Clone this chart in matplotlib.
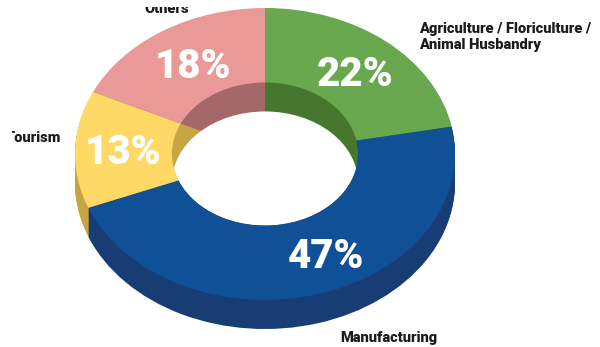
import matplotlib
matplotlib.use('Agg')
import matplotlib.pyplot as plt
from matplotlib.patches import Circle, Rectangle
import numpy as np

labels = ['Agriculture / Floriculture /\nAnimal Husbandry', 'Manufacturing', 'Tourism', 'Others']
values = [22, 47, 13, 18]
pct_labels = ['22%', '47%', '13%', '18%']
top_colors = ['#69A84F', '#0F5096', '#FFD966', '#EA9999']
side_colors = ['#47762F', '#183C74', '#C8A544', '#A5686A']
# only the far wall of the hole shows, and green carries on past its seam there
wall_colors = ['#47762F', '#47762F', '#C8A544', '#A5686A']

W, H = 600, 347
cx, cy = 265, 154   # centre of the top face, px from top left
rx, ry = 190, 146
depth = 29
hole = 0.49


def px(x, y):
  return (x - cx) / rx, (cy - y) / ry


fig = plt.figure(figsize=(W / 100, H / 100), dpi=100)
ax = fig.add_axes([0, 0, 1, 1])

# side of the ring, swept down from the top face
for dy in np.arange(depth, 0, -1):
  ax.pie(values, colors=side_colors, startangle=90, counterclock=False,
         center=(0, -dy / ry), radius=1, wedgeprops=dict(linewidth=0))

# wall inside the hole, then the white opening
ax.pie(values, colors=wall_colors, startangle=90, counterclock=False, radius=hole,
       wedgeprops=dict(linewidth=0))
clip = Circle((0, 0), hole, transform=ax.transData)
white = Circle((0, -depth / ry), hole, fc='white', ec='none', zorder=3)
ax.add_patch(white)
white.set_clip_path(clip)

# top face
ax.pie(values, colors=top_colors, startangle=90, counterclock=False, radius=1,
       wedgeprops=dict(width=1 - hole, linewidth=0, zorder=4))

ax.set_aspect('auto')
ax.set_xlim(-cx / rx, (W - cx) / rx)
ax.set_ylim((cy - H) / ry, cy / ry)
ax.axis('off')

pct_pos = [(355, 75), (326, 256), (123, 152), (193, 67)]
for txt, (x, y) in zip(pct_labels, pct_pos):
  ax.text(*px(x, y), txt, color='white', fontsize=29, fontweight=900, family='Roboto',
          ha='center', va='center', zorder=6)

label_pos = [(419, 37), (389, 338), (33, 138), (167, 9)]
label_ha = ['left', 'center', 'center', 'center']
# the source image crops the labels at its margins
crop = Rectangle((12 / W, 0), 1, 1 - 7 / H, transform=ax.transAxes)
for txt, (x, y), ha in zip(labels, label_pos, label_ha):
  t = ax.text(*px(x, y), txt, color='#1c1c1c', fontsize=10.5, fontweight=900, family='Roboto',
              ha=ha, va='center', linespacing=1.15, zorder=6)
  t.set_clip_path(crop)
  t.set_clip_on(True)

fig.savefig('out.png', dpi=100)
